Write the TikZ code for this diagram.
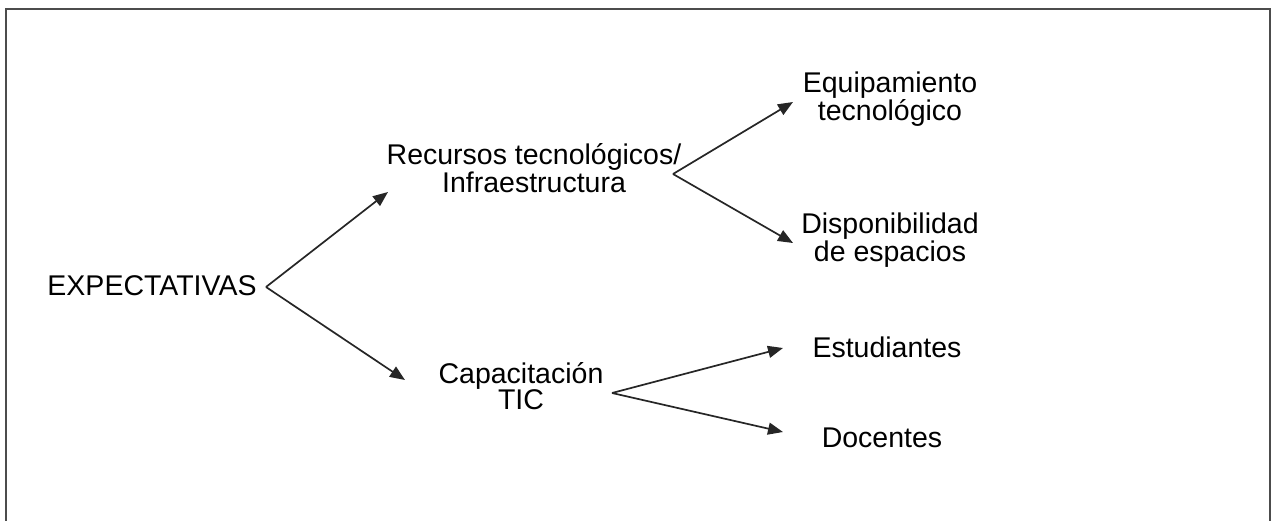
\documentclass[tikz,border=0pt]{standalone}
\usepackage{fontspec}
\setmainfont{Liberation Sans}
\usetikzlibrary{arrows.meta}
\begin{document}
\begin{tikzpicture}[x=1pt,y=-1pt,
  lbl/.style={font=\fontsize{28.5}{26}\selectfont, align=center, inner sep=0pt, text=black, anchor=base},
  conn/.style={line width=1.7pt, draw=black!85, -{Triangle[length=15pt,width=12pt]}},
  frame/.style={line width=2.5pt, draw=black!70}]
\useasboundingbox (0,0) rectangle (1272,520);
\draw[frame] (6,540) -- (6,9) -- (1270,9) -- (1270,540);
% text nodes (positioned at the baseline of the last line)
\node[lbl] (exp) at (152,295) {EXPECTATIVAS};
\node[lbl] (rec) at (534,192) {Recursos tecnológicos/\\Infraestructura};
\node[lbl] (cap) at (521,409) {Capacitación\\TIC};
\node[lbl] (equ) at (890,120) {Equipamiento\\tecnológico};
\node[lbl] (dis) at (890,261) {Disponibilidad\\de espacios};
\node[lbl] (est) at (887,357) {Estudiantes};
\node[lbl] (doc) at (882,447) {Docentes};
% junctions and tips
\coordinate (j0) at (266,287);
\coordinate (j1) at (673,174);
\coordinate (j2) at (612,393);
\coordinate (t1) at (388,192);
\coordinate (t2) at (405,380);
\coordinate (t3) at (793,102);
\coordinate (t4) at (793,243);
\coordinate (t5) at (783,348);
\coordinate (t6) at (783,432);
\draw[conn] (j0) -- (t1);
\draw[conn] (j0) -- (t2);
\draw[conn] (j1) -- (t3);
\draw[conn] (j1) -- (t4);
\draw[conn] (j2) -- (t5);
\draw[conn] (j2) -- (t6);
\end{tikzpicture}
\end{document}
